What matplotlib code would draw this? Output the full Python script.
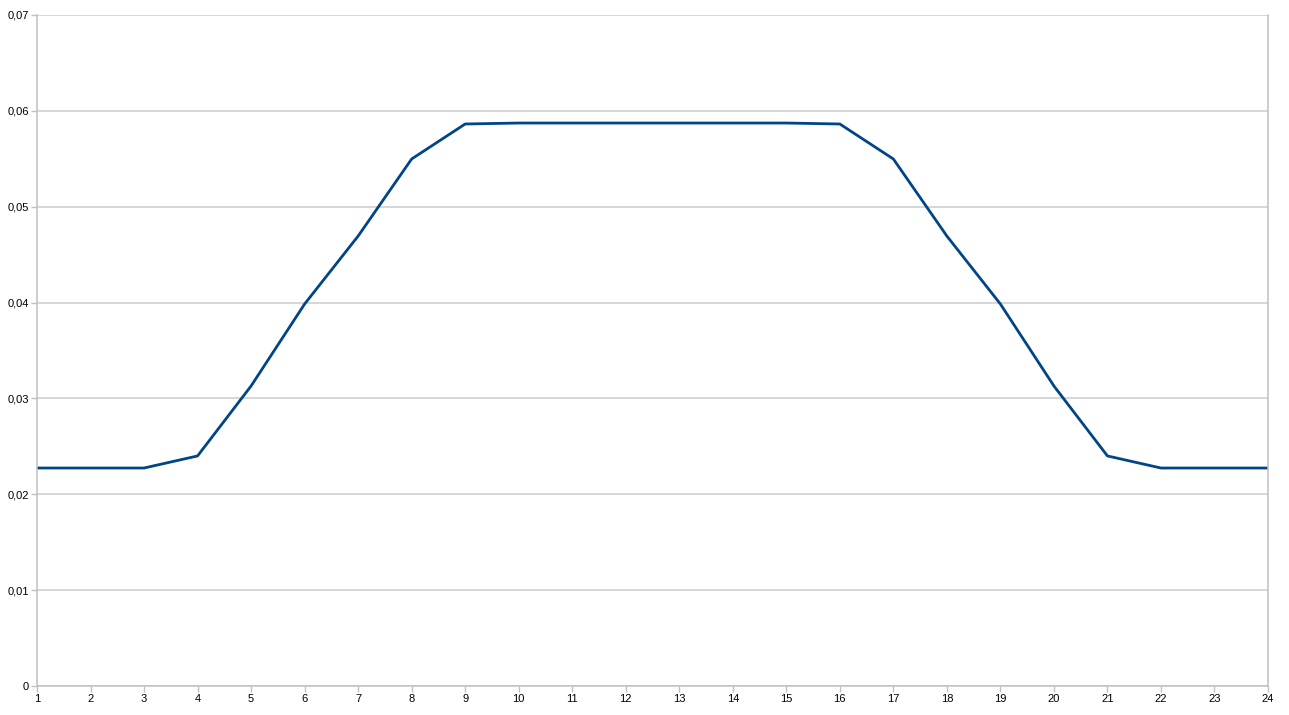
import matplotlib
matplotlib.use("Agg")
import matplotlib.pyplot as plt
from matplotlib.ticker import FuncFormatter

hours = list(range(1, 25))
values = [0.02274, 0.02274, 0.02274, 0.0240, 0.0313, 0.03985, 0.04694, 0.05498,
          0.05863, 0.05873, 0.05873, 0.05873, 0.05873, 0.05873, 0.05873, 0.05863,
          0.05498, 0.04694, 0.03985, 0.0313, 0.0240, 0.02274, 0.02274, 0.02274]
y_ticks = [0, 0.01, 0.02, 0.03, 0.04, 0.05, 0.06, 0.07]

W, H = 1289, 715
fig = plt.figure(figsize=(W / 100, H / 100), dpi=100)
ax = fig.add_axes([37 / W, 29 / H, (1268 - 37) / W, (686 - 15) / H])

ax.plot(hours, values, color="#004586", linewidth=2.0)

ax.set_xlim(1, 24)
ax.set_ylim(0, 0.07)
ax.set_xticks(hours)
ax.set_yticks(y_ticks)
ax.yaxis.set_major_formatter(FuncFormatter(
    lambda v, p: "0" if v == 0 else f"{v:.2f}".replace(".", ",")))

ax.grid(axis="y", color="#cccccc", linewidth=1.1)
ax.set_axisbelow(True)
for side in ("left", "bottom", "right"):
    ax.spines[side].set_color("#c0c0c0")
    ax.spines[side].set_linewidth(1.1)
ax.spines["top"].set_visible(False)
ax.tick_params(axis="both", colors="#c0c0c0", length=4, width=1,
               labelcolor="black", labelsize=8, pad=2)
for lbl in ax.get_xticklabels() + ax.get_yticklabels():
    lbl.set_fontfamily("Liberation Sans")

fig.savefig("out.png", dpi=100)
